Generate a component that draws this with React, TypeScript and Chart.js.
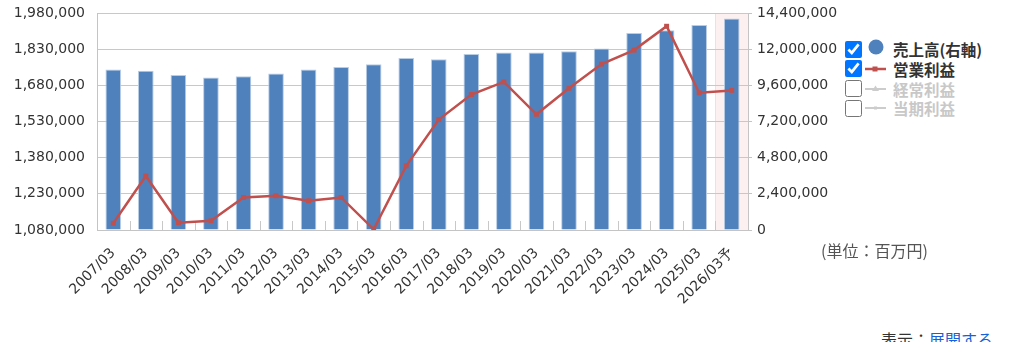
import React, { useEffect, useRef } from "react";
import { Chart, registerables } from "chart.js";

Chart.register(...registerables);

const categories = [
  "2007/03", "2008/03", "2009/03", "2010/03", "2011/03", "2012/03", "2013/03",
  "2014/03", "2015/03", "2016/03", "2017/03", "2018/03", "2019/03", "2020/03",
  "2021/03", "2022/03", "2023/03", "2024/03", "2025/03", "2026/03予",
];

// 売上高 (右軸) — bars
const salesValues = [
  10650000, 10560000, 10290000, 10120000, 10210000, 10380000, 10650000,
  10820000, 11000000, 11420000, 11330000, 11680000, 11780000, 11780000,
  11860000, 12040000, 13080000, 13250000, 13600000, 14030000,
];

// 営業利益 — line (left axis)
const operatingProfit = [
  1108000, 1304000, 1110000, 1118000, 1215000, 1222000, 1201000,
  1215000, 1083000, 1346000, 1538000, 1642000, 1694000, 1560000,
  1668000, 1768000, 1826000, 1925000, 1649000, 1659000,
];

const leftAxisTicks = [1080000, 1230000, 1380000, 1530000, 1680000, 1830000, 1980000];
const rightAxisTicks = [0, 2400000, 4800000, 7200000, 9600000, 12000000, 14400000];

const legendItems = [
  { label: "売上高(右軸)", active: true, kind: "circle" },
  { label: "営業利益", active: true, kind: "line" },
  { label: "経常利益", active: false, kind: "tri" },
  { label: "当期利益", active: false, kind: "plain" },
];

const forecastIndex = categories.length - 1;

const fmt = (v: number) => v.toLocaleString("en-US");

const zeroPad = (scale: any) => {
  scale.paddingTop = 0;
  scale.paddingBottom = 0;
  scale.paddingLeft = 0;
  scale.paddingRight = 0;
};

const decorPlugin = {
  id: "decor",
  beforeDraw(chart: any) {
    const { ctx, chartArea, scales } = chart;
    const x = scales.x;
    const w = x.getPixelForValue(1) - x.getPixelForValue(0);
    const left = x.getPixelForValue(forecastIndex) - w / 2;
    ctx.save();
    ctx.fillStyle = "#fdf0f0";
    ctx.fillRect(left, chartArea.top, chartArea.right - left, chartArea.bottom - chartArea.top);
    ctx.strokeStyle = "#f8dcdc";
    ctx.lineWidth = 1;
    ctx.beginPath();
    ctx.moveTo(Math.round(left) + 0.5, chartArea.top);
    ctx.lineTo(Math.round(left) + 0.5, chartArea.bottom);
    ctx.stroke();
    ctx.restore();
  },
  beforeDatasetsDraw(chart: any) {
    const { ctx, chartArea, scales } = chart;
    const x = scales.x;
    const w = x.getPixelForValue(1) - x.getPixelForValue(0);
    ctx.save();
    ctx.strokeStyle = "#c8c8c8";
    ctx.lineWidth = 1;
    for (let i = 1; i < categories.length; i++) {
      const bx = Math.round(x.getPixelForValue(i) - w / 2) + 0.5;
      ctx.beginPath();
      ctx.moveTo(bx, chartArea.bottom);
      ctx.lineTo(bx, chartArea.bottom - 9);
      ctx.stroke();
    }
    ctx.restore();
  },
};

function LegendMarker({ kind, active }: { kind: string; active: boolean }) {
  const c = active ? (kind === "circle" ? "#4f81bd" : "#c0504d") : "#cccccc";
  return (
    <svg width={28} height={20} style={{ display: "block" }}>
      {kind === "circle" && <circle cx={13} cy={8} r={7.5} fill={c} />}
      {kind === "line" && (
        <g>
          <line x1={2} y1={10} x2={23} y2={10} stroke={c} strokeWidth={2.5} />
          <rect x={9.5} y={7.5} width={5} height={5} fill={c} />
        </g>
      )}
      {kind === "tri" && (
        <g>
          <line x1={2} y1={10} x2={23} y2={10} stroke={c} strokeWidth={2} />
          <polygon points="12.5,6.5 16,12 9,12" fill={c} />
        </g>
      )}
      {kind === "plain" && (
        <g>
          <line x1={2} y1={10} x2={23} y2={10} stroke={c} strokeWidth={2} />
          <rect x={11} y={8.5} width={3} height={3} fill={c} />
        </g>
      )}
    </svg>
  );
}

export default function App() {
  const canvasRef = useRef<HTMLCanvasElement | null>(null);

  useEffect(() => {
    if (!canvasRef.current) return;
    const chart = new Chart(canvasRef.current, {
      type: "bar",
      data: {
        labels: categories,
        datasets: [
          {
            type: "line",
            label: "営業利益",
            data: operatingProfit,
            yAxisID: "y",
            borderColor: "#c0504d",
            backgroundColor: "#c0504d",
            borderWidth: 2.5,
            pointStyle: "rect",
            pointRadius: 3.5,
            pointBackgroundColor: "#c0504d",
            pointBorderWidth: 0,
            tension: 0,
            order: 0,
          } as any,
          {
            type: "bar",
            label: "売上高(右軸)",
            data: salesValues,
            yAxisID: "y1",
            backgroundColor: "#4f81bd",
            borderColor: "#b8cce4",
            borderWidth: { top: 1, left: 1, right: 1, bottom: 0 },
            categoryPercentage: 1,
            barPercentage: 0.48,
            order: 1,
          } as any,
        ],
      },
      options: {
        responsive: false,
        animation: false,
        devicePixelRatio: 1,
        layout: { padding: { top: 13, left: 0, right: 0, bottom: 0 } },
        plugins: {
          legend: { display: false },
          tooltip: { enabled: false },
        },
        scales: {
          x: {
            grid: { display: false, drawTicks: false },
            border: { display: true, color: "#c4c4c4", width: 1 },
            ticks: {
              color: "#333333",
              font: { family: "'DejaVu Sans', Verdana, sans-serif", size: 14 },
              maxRotation: 45,
              minRotation: 45,
              autoSkip: false,
              padding: 15,
            },
            afterFit(scale: any) {
              scale.height = 112;
              zeroPad(scale);
            },
          },
          y: {
            position: "left",
            min: leftAxisTicks[0],
            max: leftAxisTicks[leftAxisTicks.length - 1],
            afterBuildTicks(scale: any) {
              scale.ticks = leftAxisTicks.map((v) => ({ value: v }));
            },
            grid: { color: "#c8c8c8", lineWidth: 1, drawTicks: false },
            border: { display: true, color: "#c4c4c4", width: 1 },
            ticks: {
              color: "#333333",
              font: { family: "'DejaVu Sans', Verdana, sans-serif", size: 14 },
              padding: 12,
              callback: (v: any) => fmt(Number(v)),
            },
            afterFit(scale: any) {
              scale.width = 97;
              zeroPad(scale);
            },
          },
          y1: {
            position: "right",
            min: rightAxisTicks[0],
            max: rightAxisTicks[rightAxisTicks.length - 1],
            afterBuildTicks(scale: any) {
              scale.ticks = rightAxisTicks.map((v) => ({ value: v }));
            },
            grid: { drawOnChartArea: false, color: "#c4c4c4", tickLength: 4 },
            border: { display: true, color: "#c4c4c4", width: 1 },
            ticks: {
              color: "#333333",
              font: { family: "'DejaVu Sans', Verdana, sans-serif", size: 14 },
              padding: 5,
              callback: (v: any) => fmt(Number(v)),
            },
            afterFit(scale: any) {
              scale.width = 97;
              zeroPad(scale);
            },
          },
        },
      },
      plugins: [decorPlugin],
    });
    return () => chart.destroy();
  }, []);

  return (
    <div
      style={{
        position: "fixed",
        left: 0,
        top: 0,
        width: 1024,
        height: 342,
        background: "#ffffff",
        overflow: "hidden",
        fontFamily: "'Noto Sans CJK JP', sans-serif",
      }}
    >
      <canvas
        ref={canvasRef}
        width={845}
        height={342}
        style={{ position: "absolute", left: 0, top: 0, width: 845, height: 342 }}
      />
      {legendItems.map((it, i) => (
        <div
          key={it.label}
          style={{
            position: "absolute",
            left: 845,
            top: 39 + i * 19.8,
            height: 20,
            display: "flex",
            alignItems: "center",
          }}
        >
          <input
            type="checkbox"
            checked={it.active}
            readOnly
            style={{ width: 17, height: 17, margin: 0 }}
          />
          <div style={{ marginLeft: 1 }}>
            <LegendMarker kind={it.kind} active={it.active} />
          </div>
          <span
            style={{
              marginLeft: 2,
              fontSize: 15.5,
              fontWeight: "bold",
              color: it.active ? "#333333" : "#c8c8c8",
              lineHeight: "20px",
              whiteSpace: "nowrap",
            }}
          >
            {it.label}
          </span>
        </div>
      ))}
      <div
        style={{
          position: "absolute",
          left: 821,
          top: 240,
          fontSize: 16,
          color: "#555555",
          lineHeight: "20px",
          whiteSpace: "nowrap",
        }}
      >
        (単位：百万円)
      </div>
      <div
        style={{
          position: "absolute",
          left: 881,
          top: 329,
          fontSize: 16,
          color: "#333333",
          lineHeight: "20px",
          whiteSpace: "nowrap",
        }}
      >
        表示：<span style={{ color: "#1a5fd6" }}>展開する</span>
      </div>
    </div>
  );
}
